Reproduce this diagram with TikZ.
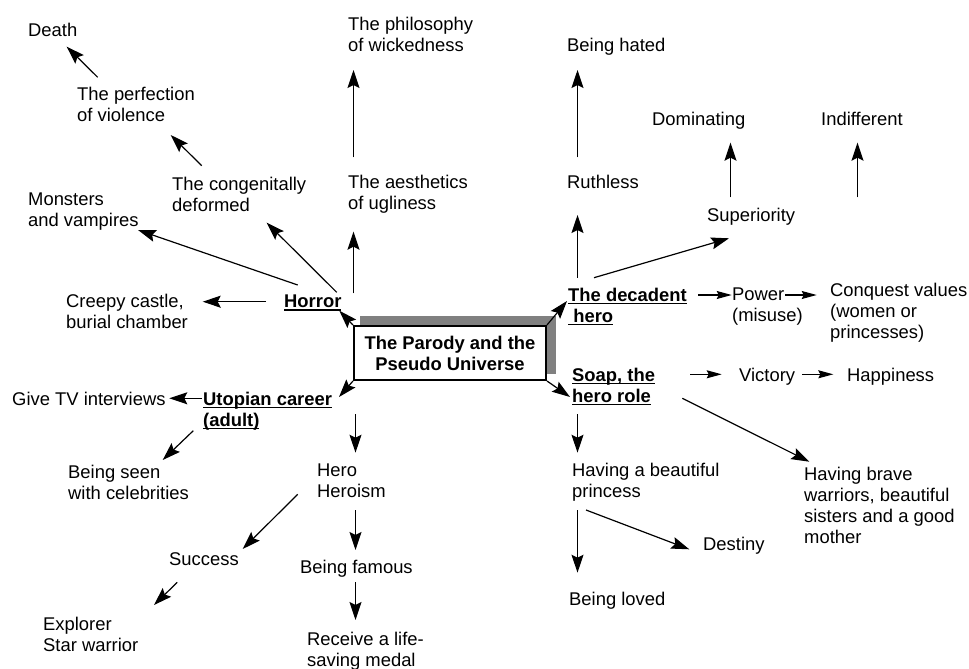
\documentclass[tikz,border=0pt]{standalone}
\usepackage{fontspec}
\setmainfont{Liberation Sans}
\usetikzlibrary{arrows.meta,backgrounds}

% word-processor style underline: a fixed rule just under the baseline
\newcommand\ulword[1]{\setbox0\hbox{#1}\rlap{\rule[-2.8bp]{\wd0}{1.6bp}}\box0}

\begin{document}
\begin{tikzpicture}[x=1bp,y=-1bp,
  lbl/.style={anchor=north west, inner sep=0pt, align=left,
              font=\fontsize{18.4bp}{21bp}\selectfont},
  key/.style={lbl, font=\fontsize{18.4bp}{21bp}\selectfont\bfseries},
  arr/.style={-{Stealth[length=18bp,width=12bp,inset=3bp]}, line width=1.2bp},
  arrn/.style={-{Stealth[length=15bp,width=8bp,inset=2bp]}, line width=1.2bp}]
\useasboundingbox (0,0) rectangle (969,669);

% central box
\node[draw, line width=2bp, fill=white, minimum width=192bp, minimum height=54bp,
      inner sep=0pt, align=center, font=\fontsize{18.4bp}{21bp}\selectfont\bfseries]
      (core) at (450,353) {The Parody and the\\Pseudo Universe};
\begin{scope}[on background layer]
  \fill[white] (0,0) rectangle (969,669);
  \fill[black!50] ([shift={(7,-9)}]core.north west) rectangle ([shift={(9,-7)}]core.south east);
\end{scope}

% horror branch
\node[lbl] (death)  at (28,23)  {Death};
\node[lbl] (perf)   at (77,87)  {The perfection\\of violence};
\node[lbl] (cong)   at (172,177){The congenitally\\deformed};
\node[lbl] (monst)  at (28,193) {Monsters\\and vampires};
\node[lbl] (creepy) at (66,294) {Creepy castle,\\burial chamber};
\node[key] (horror) at (284,295){\ulword{Horror}};
\node[lbl] (phil)   at (348,17) {The philosophy\\of wickedness};
\node[lbl] (aest)   at (348,175){The aesthetics\\of ugliness};

% decadent hero branch
\node[lbl] (hated)  at (567,38) {Being hated};
\node[lbl] (ruth)   at (567,175){Ruthless};
\node[lbl] (domin)  at (652,112){Dominating};
\node[lbl] (indiff) at (821,112){Indifferent};
\node[lbl] (super)  at (707,208){Superiority};
\node[key] (dec)    at (568,288){\ulword{The decadent}\\\ulword{\ hero}};
\node[lbl] (power)  at (732,288){Power\\(misuse)};
\node[lbl] (conq)   at (830,283){Conquest values\\(women or\\princesses)};

% soap branch
\node[key] (soap)    at (572,368){\ulword{Soap, the}\\\ulword{hero role}};
\node[lbl] (victory) at (739,368){Victory};
\node[lbl] (happy)   at (847,368){Happiness};
\node[lbl] (princess)at (572,463){Having a beautiful\\princess};
\node[lbl] (brave)   at (804,467){Having brave\\warriors, beautiful\\sisters and a good\\mother};
\node[lbl] (destiny) at (703,537){Destiny};
\node[lbl] (loved)   at (569,592){Being loved};

% utopian career branch
\node[lbl] (tv)       at (12,392) {Give TV interviews};
\node[key] (utop)     at (203,392){\ulword{Utopian career}\\\ulword{(adult)}};
\node[lbl] (seen)     at (68,465) {Being seen\\with celebrities};
\node[lbl] (hero)     at (317,464){Hero\\Heroism};
\node[lbl] (success)  at (169,552){Success};
\node[lbl] (explorer) at (43,617) {Explorer\\Star warrior};
\node[lbl] (famous)   at (300,560){Being famous};
\node[lbl] (receive)  at (307,632){Receive a life-\\saving medal};

\coordinate (free) at (857.5,197.3);

% connectors from the central box
\draw[arr] (core.north west) -- ([shift={(55.3,15.7)}]horror.north west);
\draw[arr] (core.north east) -- ([shift={(-1,13)}]dec.north west);
\draw[arr] (core.south west) -- ([shift={(136,5)}]utop.north west);
\draw[arr] (core.south east) -- ([shift={(-2,29)}]soap.north west);

% horror
\draw[arr] ([shift={(20.7,-9.7)}]perf.north west) -- ([shift={(38.7,23.7)}]death.north west);
\draw[arr] ([shift={(29.7,-11.3)}]cong.north west) -- ([shift={(93.7,48)}]perf.north west);
\draw[arr] ([shift={(52.7,-2.7)}]horror.north west) -- ([shift={(94.7,45.7)}]cong.north west);
\draw[arr] ([shift={(13.7,-10)}]horror.north west) -- ([shift={(110,37)}]monst.north west);
\draw[arr] ([shift={(-18,6.7)}]horror.north west) -- ([shift={(136.7,7.7)}]creepy.north west);
\draw[arr] ([shift={(69.5,-1.7)}]horror.north west) -- ([shift={(5.5,56.7)}]aest.north west);
\draw[arr] ([shift={(5.5,-17.7)}]aest.north west) -- ([shift={(5.5,53)}]phil.north west);

% decadent hero
\draw[arr] ([shift={(9.5,-10.3)}]dec.north west) -- ([shift={(10.5,40)}]ruth.north west);
\draw[arr] ([shift={(10.5,-17.7)}]ruth.north west) -- ([shift={(10.5,32)}]hated.north west);
\draw[arr] ([shift={(26,-10.3)}]dec.north west) -- ([shift={(22,30.3)}]super.north west);
\draw[arr] ([shift={(23.5,-10.7)}]super.north west) -- ([shift={(78.5,30.7)}]domin.north west);
\draw[arr] (free) -- ([shift={(36.5,30.7)}]indiff.north west);
\draw[arrn] ([shift={(130.3,7)}]dec.north west) -- ([shift={(-0.3,7)}]power.north west);
\draw[arrn] ([shift={(53,7)}]power.north west) -- ([shift={(-13.3,12)}]conq.north west);

% soap
\draw[arrn] ([shift={(118,6.3)}]soap.north west) -- ([shift={(-17.3,6.3)}]victory.north west);
\draw[arrn] ([shift={(63.3,6.3)}]victory.north west) -- ([shift={(-13.7,6.3)}]happy.north west);
\draw[arr] ([shift={(5.5,46.3)}]soap.north west) -- ([shift={(5.5,-10.3)}]princess.north west);
\draw[arr] ([shift={(110.3,30.3)}]soap.north west) -- ([shift={(5.3,-5.3)}]brave.north west);
\draw[arr] ([shift={(5.5,47)}]princess.north west) -- ([shift={(8.5,-19.3)}]loved.north west);
\draw[arr] ([shift={(14,47)}]princess.north west) -- ([shift={(-13.7,12.3)}]destiny.north west);

% utopian career
\draw[arr] ([shift={(-1.3,6.3)}]utop.north west) -- ([shift={(157.3,6.3)}]tv.north west);
\draw[arr] ([shift={(-9.7,38.7)}]utop.north west) -- ([shift={(94.7,-5)}]seen.north west);
\draw[arr] ([shift={(152.5,22.3)}]utop.north west) -- ([shift={(38.5,-11.3)}]hero.north west);
\draw[arr] ([shift={(-19.3,30.3)}]hero.north west) -- ([shift={(73.7,-3)}]success.north west);
\draw[arr] ([shift={(8.3,30.3)}]success.north west) -- ([shift={(111,-12)}]explorer.north west);
\draw[arr] ([shift={(38.5,46)}]hero.north west) -- ([shift={(55.5,-10)}]famous.north west);
\draw[arr] ([shift={(55.5,22.3)}]famous.north west) -- ([shift={(48.5,-12)}]receive.north west);
\end{tikzpicture}
\end{document}
